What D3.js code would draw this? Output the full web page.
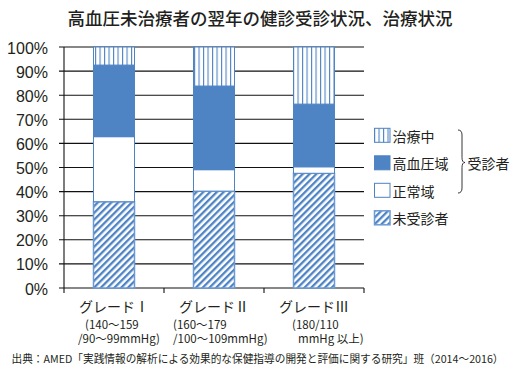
<!DOCTYPE html>
<html><head><meta charset="utf-8">
<script src="https://cdn.jsdelivr.net/npm/d3@7"></script>
<style>
html,body{margin:0;padding:0;background:#fff;}
svg{display:block;}
text{fill:#231f20;}
</style></head>
<body>
<svg id="c" width="520" height="372"></svg>
<script>
// ---- data ----
const categories = ["グレードⅠ", "グレードⅡ", "グレードⅢ"];
const subLabels1 = ["(140～159", "(160～179", "(180/110"];
const subLabels2 = ["/90～99mmHg)", "/100～109mmHg)", "mmHg 以上)"];
const seriesNames = ["未受診者", "正常域", "高血圧域", "治療中"];
const untreated = [35.8, 40.2, 47.6];
const normal    = [27.0, 8.9, 2.7];
const highBP    = [29.7, 34.7, 26.0];
const treating  = [7.5, 16.2, 23.7];
const yTicks = [0,10,20,30,40,50,60,70,80,90,100];
const titleText = "高血圧未治療者の翌年の健診受診状況、治療状況";
const sourceText = "出典：AMED「実践情報の解析による効果的な保健指導の開発と評価に関する研究」班（2014～2016）";
const braceLabel = "受診者";

const BLUE = "#4e83c4";
const JP = "'Noto Sans CJK JP','Noto Sans',sans-serif";
const LAT = "'Liberation Sans','Arial',sans-serif";

const svg = d3.select("#c");
const defs = svg.append("defs");
// diagonal hatch
const ph = defs.append("pattern").attr("id","hatch").attr("patternUnits","userSpaceOnUse")
  .attr("width",4.8).attr("height",4.8).attr("patternTransform","rotate(45)");
ph.append("rect").attr("width",4.8).attr("height",4.8).attr("fill","#fff");
ph.append("rect").attr("width",2.3).attr("height",4.8).attr("fill",BLUE);
// vertical stripes
const pv = defs.append("pattern").attr("id","vstripe").attr("patternUnits","userSpaceOnUse")
  .attr("width",4.5).attr("height",10).attr("x",95);
pv.append("rect").attr("width",4.5).attr("height",10).attr("fill","#fff");
pv.append("rect").attr("x",0).attr("width",1.1).attr("height",10).attr("fill",BLUE);

const fills = {"未受診者":"url(#hatch)","正常域":"#fff","高血圧域":BLUE,"治療中":"url(#vstripe)"};

const x = d3.scaleBand().domain(categories).range([64,364]).padding(0);
const y = d3.scaleLinear().domain([0,100]).range([288,47]);

// title
svg.append("text").attr("x",260).attr("y",24.5).attr("text-anchor","middle")
  .attr("font-family",JP).attr("font-size",17.5).attr("font-weight",500).text(titleText);

// gridlines + y ticks
const g = svg.append("g");
g.selectAll("line.grid").data(yTicks).join("line")
  .attr("x1",59).attr("x2",364).attr("y1",d=>y(d)).attr("y2",d=>y(d))
  .attr("stroke","#111").attr("stroke-width",1.1);
g.selectAll("text.yl").data(yTicks).join("text")
  .attr("x",48).attr("y",d=>y(d)+1).attr("dominant-baseline","central").attr("text-anchor","end")
  .attr("font-family",LAT).attr("font-size",16).text(d=>d+"%");
// y axis line
g.append("line").attr("x1",64).attr("x2",64).attr("y1",y(100)).attr("y2",y(0)).attr("stroke","#111").attr("stroke-width",1.1);
// x ticks
const xt = categories.map(c=>x(c)).concat([x(categories[2])+x.bandwidth()]);
g.selectAll("line.xt").data(xt).join("line")
  .attr("x1",d=>d).attr("x2",d=>d).attr("y1",288).attr("y2",293).attr("stroke","#111").attr("stroke-width",1.1);

// stacked bars
const rows = categories.map((c,i)=>({cat:c,"未受診者":untreated[i],"正常域":normal[i],"高血圧域":highBP[i],"治療中":treating[i]}));
const stack = d3.stack().keys(seriesNames)(rows);
const bw = x.bandwidth()*0.41, off = x.bandwidth()*0.295;
stack.forEach(s=>{
  svg.append("g").selectAll("rect").data(s).join("rect")
    .attr("x",d=>x(d.data.cat)+off).attr("width",bw)
    .attr("y",d=>y(d[1])).attr("height",d=>y(d[0])-y(d[1]))
    .attr("fill",fills[s.key]).attr("stroke",s.key==="未受診者"?"#6e9ad3":BLUE)
    .attr("stroke-width",s.key==="未受診者"?1.5:1);
});

// x labels
const xl = svg.append("g").attr("font-family",JP);
categories.forEach((c,i)=>{
  const cx = x(c)+x.bandwidth()/2;
  xl.append("text").attr("x",cx).attr("y",312).attr("text-anchor","middle").attr("font-size",14).text(c);
});
const l1dx = [-29,-41,-22], l2dx = [-36,-41,-16];
categories.forEach((c,i)=>{
  const cx = x(c)+x.bandwidth()/2;
  xl.append("text").attr("x",cx+l1dx[i]).attr("y",328.5).attr("font-size",11.5).text(subLabels1[i]);
  xl.append("text").attr("x",cx+l2dx[i]).attr("y",343).attr("font-size",11.5).text(subLabels2[i]);
});

// legend
const legOrder = ["治療中","高血圧域","正常域","未受診者"];
const lg = svg.append("g");
legOrder.forEach((k,i)=>{
  const cy = 135.3 + i*27.5;
  lg.append("rect").attr("x",374.5).attr("y",cy-7).attr("width",15.5).attr("height",14)
    .attr("fill",fills[k]).attr("stroke",k==="未受診者"?"#6e9ad3":BLUE).attr("stroke-width",k==="未受診者"?1.5:1);
  lg.append("text").attr("x",392.5).attr("y",cy+0.5).attr("dominant-baseline","central")
    .attr("font-family",JP).attr("font-size",14).text(k);
});
// brace
const bx = 458, by0 = 130, by1 = 193, bm = 162.5;
lg.append("path").attr("d",`M${bx},${by0} Q${bx+4},${by0} ${bx+4},${by0+5} L${bx+4},${bm-5} Q${bx+4},${bm} ${bx+7},${bm} Q${bx+4},${bm} ${bx+4},${bm+5} L${bx+4},${by1-5} Q${bx+4},${by1} ${bx},${by1}`)
  .attr("fill","none").attr("stroke","#231f20").attr("stroke-width",0.9);
lg.append("text").attr("x",467.5).attr("y",bm+0.5).attr("dominant-baseline","central")
  .attr("font-family",JP).attr("font-size",14).text(braceLabel);

// source
svg.append("text").attr("x",11.5).attr("y",362.5).attr("font-family",JP).attr("font-size",11)
  .attr("textLength",492).attr("lengthAdjust","spacingAndGlyphs").text(sourceText);
</script>
</body></html>
